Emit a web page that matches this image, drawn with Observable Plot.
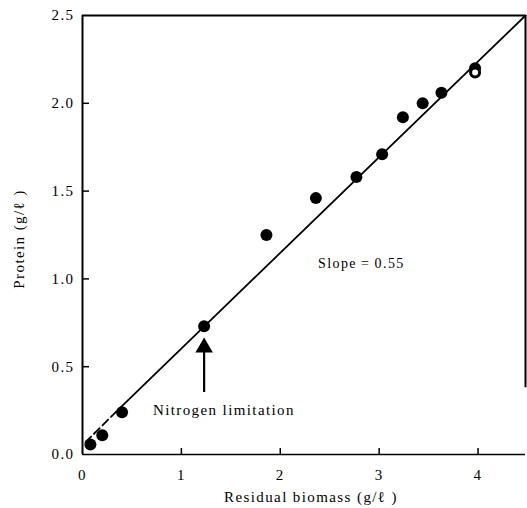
<!DOCTYPE html>
<html>
<head>
<meta charset="utf-8">
<script src="https://cdn.jsdelivr.net/npm/d3@7"></script>
<script src="https://cdn.jsdelivr.net/npm/@observablehq/plot@0.6"></script>
<style>
  html, body { margin: 0; padding: 0; background: #fff; }
</style>
</head>
<body>
<div id="chart"></div>
<script>
// Measured points: residual biomass (g/l) vs protein (g/l)
const biomass = [0.08, 0.20, 0.40, 1.23, 1.86, 2.36, 2.77, 3.03, 3.24, 3.44, 3.63, 3.97];
const protein = [0.057, 0.11, 0.24, 0.73, 1.25, 1.46, 1.58, 1.71, 1.92, 2.00, 2.06, 2.20];
// Open (hollow) point
const openBiomass = [3.97];
const openProtein = [2.175];
// Fitted line (slope 0.55): dashed extrapolation and solid part
const fitDashX = [0.03, 0.37];
const fitDashY = [0.07, 0.26];
const fitSolidX = [0.37, 4.48];
const fitSolidY = [0.26, 2.5];
// Tick values
const xTicks = [0, 1, 2, 3, 4];
const yTicks = [0.0, 0.5, 1.0, 1.5, 2.0, 2.5];
const xTickMarks = [1, 2, 3, 4];
const yTickMarks = [0.5, 1.0, 1.5, 2.0];
// Labels
const xLabel = "Residual biomass (g/\u2113 )";
const yLabel = "Protein (g/\u2113 )";
const annotations = ["Nitrogen limitation", "Slope\u2009=\u20090.55"];
const annotX = [1.43, 2.82];
const annotY = [0.25, 1.09];
const annotSize = [15, 14];
// Arrow
const arrowX = [1.23];
const arrowFromY = [0.353];
const arrowToY = [0.666];

const pts = biomass.map((x, i) => ({x, y: protein[i]}));
const openPts = openBiomass.map((x, i) => ({x, y: openProtein[i]}));
const dash = fitDashX.map((x, i) => ({x, y: fitDashY[i]}));
const solid = fitSolidX.map((x, i) => ({x, y: fitSolidY[i]}));
const arrows = arrowX.map((x, i) => ({x, y1: arrowFromY[i], y2: arrowToY[i]}));
const annots = annotations.map((t, i) => ({t, x: annotX[i], y: annotY[i], s: annotSize[i]}));

const W = 527, H = 508, ML = 82, MR = 2, MT = 15, MB = 54;
const xMax = 4.48, yMax = 2.5;
const frameW = W - ML - MR, frameH = H - MT - MB;
// tick lengths (6 px) expressed in data units
const xTickLen = 6 * yMax / frameH;
const yTickLen = 7 * xMax / frameW;

const chart = Plot.plot({
  width: W,
  height: H,
  marginLeft: ML,
  marginRight: MR,
  marginTop: MT,
  marginBottom: MB,
  style: {fontFamily: "Liberation Serif, serif", fontSize: "15px", background: "#fff", color: "#000", letterSpacing: "1.4px"},
  x: {domain: [0, xMax]},
  y: {domain: [0, yMax]},
  marks: [
    Plot.axisX({ticks: xTicks, tickSize: 0, tickPadding: 15, tickFormat: d => String(d), label: null, fontSize: 15}),
    Plot.axisY({ticks: yTicks, tickSize: 0, tickPadding: 8, tickFormat: d => d.toFixed(1), label: null, fontSize: 15}),
    Plot.ruleX(xTickMarks, {x: d => d, y1: 0, y2: xTickLen, stroke: "#000", strokeWidth: 1.5}),
    Plot.ruleY(yTickMarks, {y: d => d, x1: 0, x2: yTickLen, stroke: "#000", strokeWidth: 1.5}),
    Plot.text([xLabel], {x: xMax / 2, y: 0, dy: 43, dx: 7, text: d => d, fontSize: 15, fill: "#000"}),
    Plot.text([yLabel], {x: 0, y: yMax / 2, dx: -63, dy: 4, rotate: -90, text: d => d, fontSize: 15, fill: "#000"}),
    Plot.ruleX([0], {strokeWidth: 2}),
    Plot.ruleY([0], {strokeWidth: 1.5}),
    Plot.ruleY([yMax], {strokeWidth: 2}),
    Plot.ruleX([xMax], {y1: 0.38, y2: yMax, strokeWidth: 2}),
    Plot.line(dash, {x: "x", y: "y", strokeWidth: 1.8, strokeDasharray: "8,4"}),
    Plot.line(solid, {x: "x", y: "y", strokeWidth: 1.8}),
    Plot.dot(pts, {x: "x", y: "y", r: 6, fill: "#000", stroke: "none"}),
    Plot.dot(openPts, {x: "x", y: "y", r: 4.5, fill: "#fff", stroke: "#000", strokeWidth: 3}),
    Plot.ruleX(arrows, {x: "x", y1: "y1", y2: d => d.y2 - 0.04, strokeWidth: 2.2}),
    Plot.dot(arrows, {x: "x", y: "y2", symbol: "triangle", r: 6.5, fill: "#000", stroke: "none", dy: 10}),
    Plot.text(annots, {x: "x", y: "y", text: "t", fontSize: d => d.s, fill: "#000"})
  ]
});
document.getElementById("chart").appendChild(chart);
</script>
</body>
</html>
